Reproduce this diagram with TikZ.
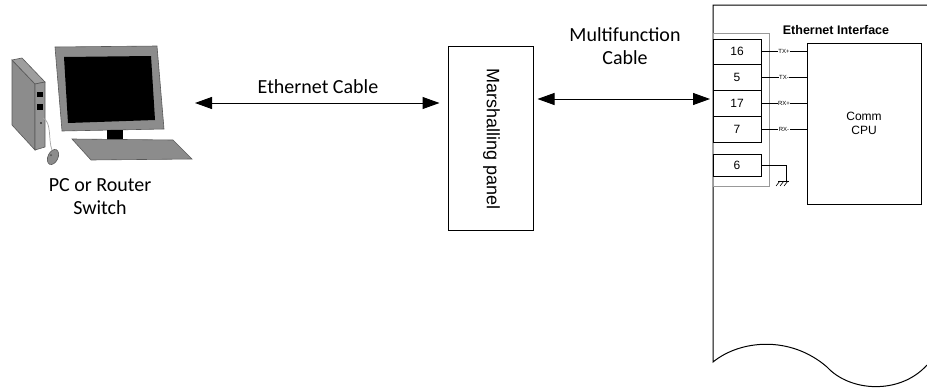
\documentclass[tikz,border=0pt]{standalone}
\usepackage{fontspec}
\setmainfont{Carlito}
\newfontfamily\arialf{Liberation Sans}
\usetikzlibrary{arrows.meta,calc}

\begin{document}
\begin{tikzpicture}[x=1pt,y=-1pt,
  cable/.style={line width=1pt,
    {Triangle[length=17pt,width=12pt]}-{Triangle[length=17pt,width=12pt]}},
  lbl/.style={font=\fontsize{20}{23}\selectfont, align=center, inner sep=0pt},
  pinbox/.style={draw, line width=0.9pt, minimum width=48pt, inner sep=0pt,
    font=\arialf\fontsize{12}{12}\selectfont},
  sig/.style={font=\arialf\fontsize{6}{6}\selectfont, fill=white, inner sep=0.4pt},
  wire/.style={line width=0.8pt},
  pcgray/.style={fill=black!45, draw=black!65, line width=0.6pt}
]
\useasboundingbox (0,0) rectangle (927,391);

% ---- PC: tower ----
\filldraw[pcgray] (12,60) -- (35,84) -- (35,150) -- (12,125) -- cycle;
\filldraw[pcgray, fill=black!38] (12,60) -- (22,58) -- (45,82) -- (35,84) -- cycle;
\filldraw[pcgray, fill=black!42] (35,84) -- (45,82) -- (45,147) -- (35,150) -- cycle;
\fill[black] (37,92) rectangle (43,97);
\fill[black] (37,104) rectangle (43,110);
\fill[black] (41,123) circle (0.9);
% mouse and its cord
\draw[black!35, line width=0.7pt] (43,118) .. controls (52,122) and (48,140) .. (52,150);
\filldraw[pcgray] (53,157) ellipse [x radius=5, y radius=8, rotate=-25];
\fill[black!70] (51,155) circle (1);

% ---- PC: monitor and keyboard ----
\filldraw[pcgray] (55,47) -- (157,46) -- (164,129) -- (62,131) -- cycle;
\fill[black] (64,57) -- (151,56) -- (155,120) -- (68,123) -- cycle;
\fill[black] (107,130) rectangle (123,140);
\filldraw[pcgray] (72,139) -- (173,140) -- (192,159) -- (91,160) -- cycle;

\node[lbl] (pc) at (100,197) {PC or Router\\Switch};
\coordinate (pcR) at (195,103);

% ---- marshalling panel ----
\node[draw, line width=1pt, minimum width=85pt, minimum height=184pt, inner sep=0pt]
  (panel) at (490.5,138) {};
\node[rotate=-90, font=\arialf\fontsize{18}{18}\selectfont, inner sep=0pt]
  (paneltxt) at (491.5,139) {Marshalling panel};

% ---- device outline ----
\coordinate (devTL) at (713,5);
\coordinate (devBL) at (713,362);
\draw[line width=1pt] (927,5) -- (devTL) -- (devBL)
  .. controls (740,340) and (790,335) .. (827,367)
  .. controls (850,392) and (900,395) .. (927,365);

% terminal block frame
\draw[black!40, line width=0.9pt] (713,33) rectangle (769,186);

% pins
\node[pinbox, minimum height=25pt] (p16) at (737,51.5) {16};
\node[pinbox, minimum height=26pt] (p5)  at (737,77)   {5};
\node[pinbox, minimum height=26pt] (p17) at (737,103)  {17};
\node[pinbox, minimum height=26pt] (p7)  at (737,129)  {7};
\node[pinbox, minimum height=22pt] (p6)  at (737,165)  {6};

% CPU
\node[draw, line width=0.9pt, minimum width=114pt, minimum height=161pt, inner sep=0pt,
  align=center, font=\arialf\fontsize{12}{14}\selectfont] (cpu) at (864,123.5) {Comm\\CPU};
\node[anchor=base, inner sep=0pt, font=\arialf\bfseries\fontsize{12.5}{12.5}\selectfont]
  (ethif) at (836,34) {Ethernet Interface};

% signal wires
\draw[wire] (p16.east) -- node[sig] {TX+} (p16.east -| cpu.west);
\draw[wire] (p5.east)  -- node[sig] {TX-} (p5.east -| cpu.west);
\draw[wire] (p17.east) -- node[sig] {RX+} (p17.east -| cpu.west);
\draw[wire] (p7.east)  -- node[sig] {RX-} (p7.east -| cpu.west);

% ground on pin 6
\coordinate (gnd) at (786,181);
\draw[wire] (p6.east) -- (p6.east -| gnd) -- (gnd);
\draw[wire] ($(gnd)+(-8,0)$) -- ($(gnd)+(3,0)$);
\foreach \dx in {-6,-2,2}
  \draw[line width=0.6pt] ($(gnd)+(\dx,0)$) -- ++(-4,5);

% ---- cables ----
\draw[cable, shorten >=8pt] (pcR) -- (pcR -| panel.west);
\node[lbl, anchor=base] (ethlbl) at (318,93) {Ethernet Cable};

\coordinate (mfy) at (0,99);
\draw[cable, shorten <=4pt, shorten >=3pt] (panel.east |- mfy) -- (devTL |- mfy);
\node[lbl, anchor=base] (mflbl) at (625,64) {Multifunction\\Cable};

\end{tikzpicture}
\end{document}
